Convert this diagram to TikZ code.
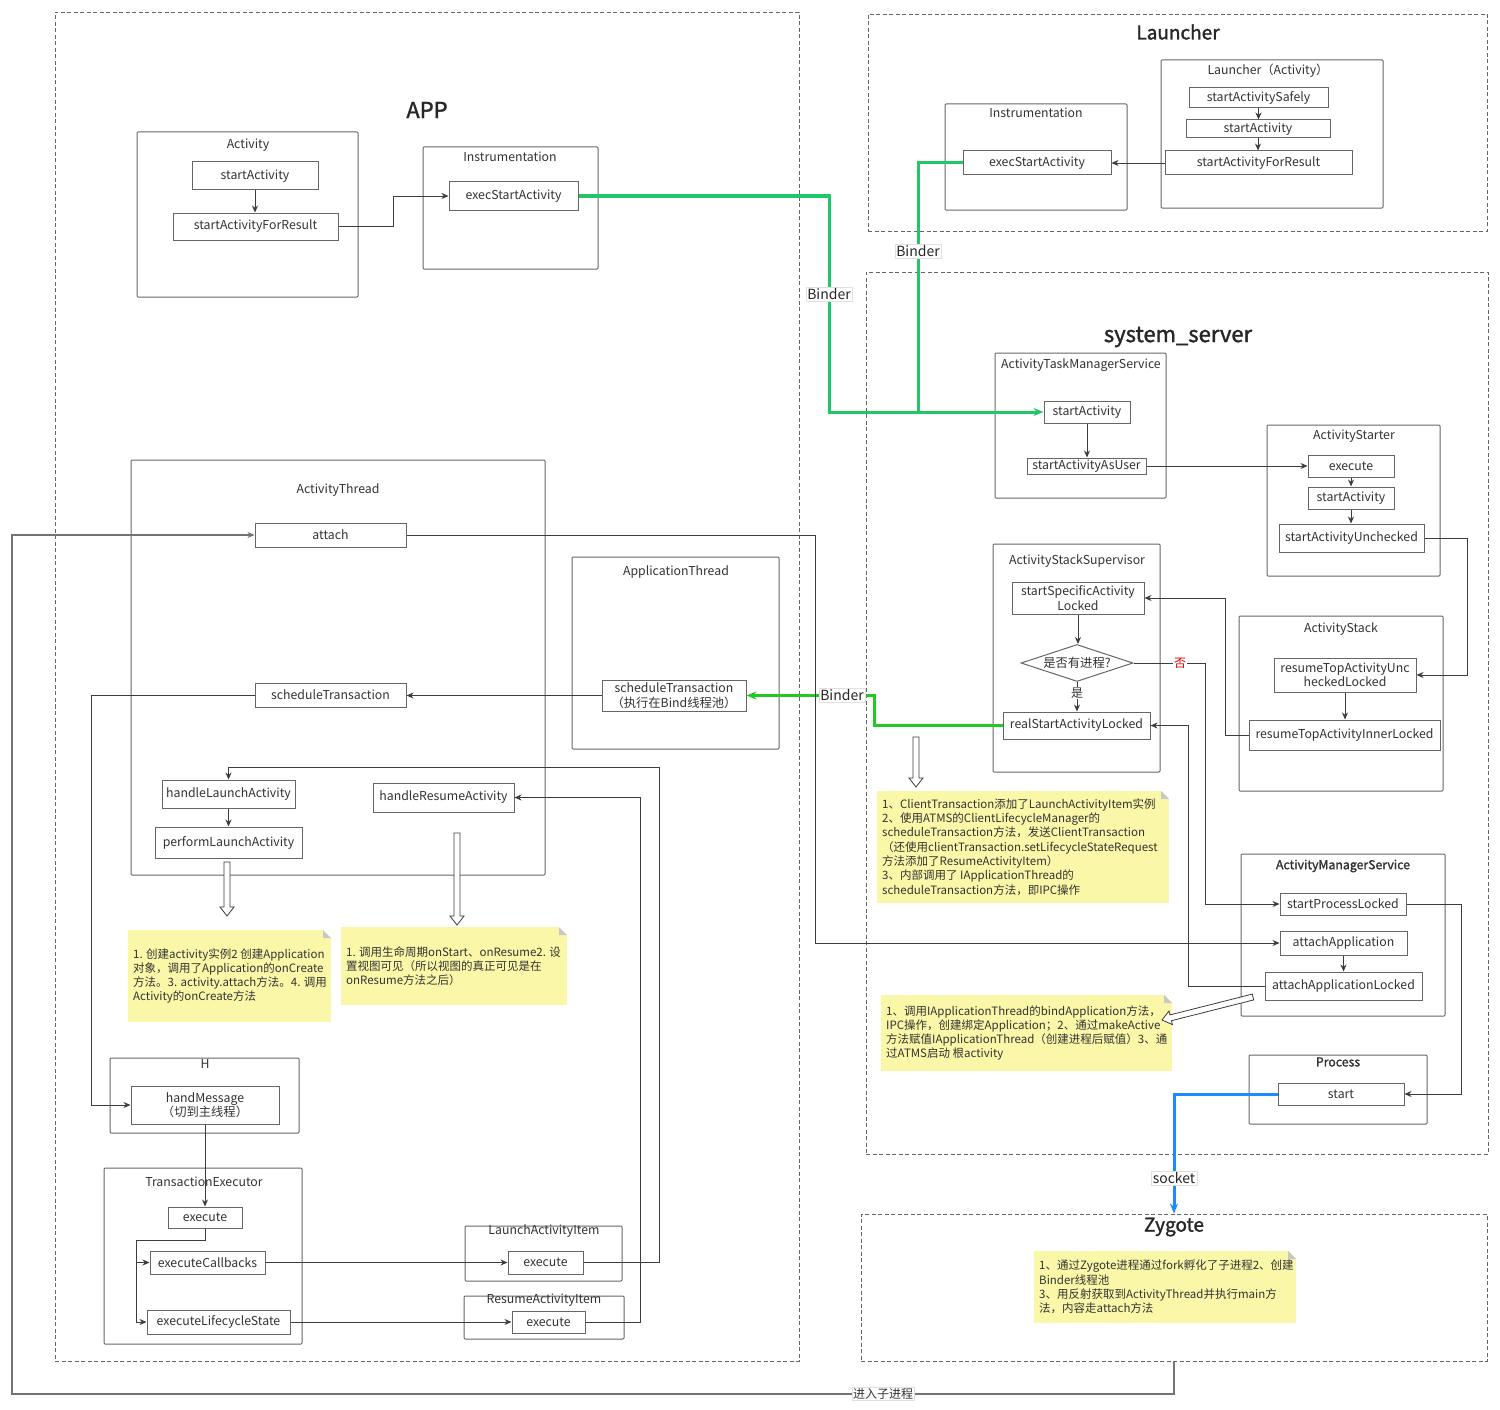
\documentclass[tikz,border=0pt]{standalone}
\usepackage{fontspec}
\setmainfont{Noto Sans CJK SC}[AutoFakeBold=1.5]
\usetikzlibrary{arrows.meta,fit,shapes.geometric}
\definecolor{linec}{HTML}{3C3C3C}
\definecolor{boxc}{HTML}{666666}
\definecolor{txtc}{HTML}{333333}
\definecolor{gA}{HTML}{1FC766}
\definecolor{gB}{HTML}{22C922}
\definecolor{blueL}{HTML}{1A8CFF}
\definecolor{noteY}{HTML}{FAF8A8}
\tikzset{
 fnbox/.style={draw=boxc, line width=1pt, inner sep=0pt, align=center, text=txtc, font=\fontsize{12.3}{14.5}\selectfont},
 ctrbox/.style={draw=boxc, line width=1pt, inner sep=0pt, rounded corners=1pt},
 dashbox/.style={draw=boxc, line width=0.9pt, dash pattern=on 4pt off 2.5pt, inner sep=0pt},
 ttl/.style={text=txtc, font=\fontsize{12.3}{14}\selectfont, inner sep=1pt},
 bigttl/.style={text=black!85, font=\fontsize{22}{26}\selectfont\bfseries, inner sep=1pt},
 midttl/.style={text=black!85, font=\fontsize{19}{23}\selectfont\bfseries, inner sep=1pt},
 arr/.style={draw=linec, line width=0.9pt, -{Stealth[length=7pt,width=6pt]}},
 lnc/.style={draw=linec, line width=0.9pt},
 grnA/.style={draw=gA, line width=3pt, -{Stealth[length=10pt,width=8pt]}},
 grnAline/.style={draw=gA, line width=3pt},
 grnB/.style={draw=gB, line width=3pt, -{Stealth[length=10pt,width=8pt]}},
 blu/.style={draw=blueL, line width=3pt, -{Stealth[length=10pt,width=8pt]}},
 lbl/.style={fill=white, draw=black!12, inner sep=1.5pt, font=\fontsize{14}{16}\selectfont, text=black!85},
 slbl/.style={fill=white, inner sep=1pt, font=\fontsize{12}{14}\selectfont, text=txtc},
 note/.style={fill=noteY, inner sep=0pt},
 notetxt/.style={align=left, font=\fontsize{11.5}{14.3}\selectfont, text=txtc, inner sep=0pt, anchor=west},
 hollow/.style={draw=linec, line width=0.8pt, fill=white},
 dia/.style={diamond, draw=boxc, line width=1pt, aspect=3, inner sep=0pt, minimum width=112pt, minimum height=37pt, text=txtc, font=\fontsize{12.3}{14}\selectfont},
}
\newcommand\fn[6]{\node[fnbox, minimum width={(#4-#2)*1pt}, minimum height={(#5-#3)*1pt}] (#1) at ({(#2+#4)/2},{(#3+#5)/2}) {#6};}
\newcommand\ctr[7]{\node[ctrbox, fit={(#2,#3) (#4,#5)}] (#1) {};\node[ttl] (#1t) at (#6) {#7};}
\newcommand\notebox[6]{\node[note, fit={(#2,#3) (#4,#5)}] (#1) {};
 \fill[white] ({#4-8},#3) -- (#4,#3) -- (#4,{#3+8}) -- cycle;
 \fill[black!22] ({#4-8},#3) -- (#4,{#3+8}) -- ({#4-8},{#3+8}) -- cycle;
 \node[notetxt] (#1x) at ({#2+5},{(#3+#5)/2}) {#6};}
\newcommand\hdown[3]{\draw[hollow] ({#1-3},#2) -- ({#1+3},#2) -- ({#1+3},{#3-9}) -- ({#1+7},{#3-9}) -- (#1,#3) -- ({#1-7},{#3-9}) -- ({#1-3},{#3-9}) -- cycle;}
\begin{document}
\begin{tikzpicture}[x=1pt,y=-1pt]
\useasboundingbox (0,0) rectangle (1500,1410);
\fill[white] (0,0) rectangle (1500,1410);

% regions
\node[dashbox, fit={(55,12) (799,1361)}] (app) {};
\node[bigttl] (appt) at (427,110) {APP};
\node[dashbox, fit={(868,14) (1487,231)}] (lau) {};
\node[midttl] (laut) at (1178,32) {Launcher};
\node[dashbox, fit={(866,272) (1488,1154)}] (ss) {};
\node[bigttl] (sst) at (1178,337) {system\_server};
\node[dashbox, fit={(861,1214) (1487,1361)}] (zyg) {};
\node[midttl] (zygt) at (1174,1227) {Zygote};

% APP top
\ctr{a_act}{137}{132}{358}{297}{248,145}{Activity}
\fn{a_sa}{192}{162}{318}{190}{startActivity}
\fn{a_sfr}{173}{213}{338}{240}{startActivityForResult}
\ctr{a_ins}{423}{147}{598}{269}{510,157}{Instrumentation}
\fn{a_esa}{449}{182}{578}{210}{execStartActivity}

% Launcher
\ctr{l_ins}{945}{104}{1127}{210}{1036,113}{Instrumentation}
\fn{l_esa}{963}{151}{1111}{175}{execStartActivity}
\ctr{l_act}{1161}{60}{1383}{208}{1268,71}{Launcher（Activity）}
\fn{l_sas}{1189}{88}{1328}{108}{startActivitySafely}
\fn{l_sa}{1186}{120}{1330}{138}{startActivity}
\fn{l_sfr}{1165}{151}{1352}{175}{startActivityForResult}

% system_server
\ctr{s_atms}{995}{353}{1166}{498}{1081,365}{ActivityTaskManagerService}
\fn{s_sa}{1044}{401}{1130}{423}{startActivity}
\fn{s_sau}{1027}{458}{1146}{474}{startActivityAsUser}
\ctr{s_ast}{1267}{425}{1440}{576}{1354,436}{ActivityStarter}
\fn{s_ex}{1308}{455}{1394}{477}{execute}
\fn{s_sa2}{1308}{487}{1394}{509}{startActivity}
\fn{s_unc}{1279}{524}{1424}{552}{startActivityUnchecked}
\ctr{k_st}{1239}{616}{1443}{791}{1341,629}{ActivityStack}
\fn{k_unc}{1274}{658}{1416}{692}{resumeTopActivityUnc\\heckedLocked}
\fn{k_inn}{1249}{720}{1440}{750}{resumeTopActivityInnerLocked}
\ctr{v_sup}{993}{544}{1160}{772}{1077,561}{ActivityStackSupervisor}
\fn{v_ssal}{1012}{582}{1144}{614}{startSpecificActivity\\Locked}
\node[dia] (v_dia) at (1077,663) {是否有进程?};
\fn{v_real}{1003}{712}{1150}{739}{realStartActivityLocked}
\ctr{m_ams}{1241}{854}{1445}{1016}{1343,866}{\bfseries ActivityManagerService}
\fn{m_spl}{1280}{893}{1406}{915}{startProcessLocked}
\fn{m_aa}{1280}{931}{1407}{955}{attachApplication}
\fn{m_aal}{1265}{972}{1422}{1000}{attachApplicationLocked}
\ctr{p_pr}{1249}{1055}{1427}{1124}{1338,1062}{\bfseries Process}
\fn{p_st}{1278}{1083}{1404}{1105}{start}

% APP lower
\ctr{t_at}{131}{460}{545}{875}{338,490}{ActivityThread}
\fn{t_att}{255}{523}{406}{547}{attach}
\ctr{t_apt}{572}{557}{779}{749}{676,572}{ApplicationThread}
\fn{t_ats}{602}{680}{746}{711}{scheduleTransaction\\（执行在Bind线程池）}
\fn{t_st}{255}{683}{406}{707}{scheduleTransaction}
\fn{t_hla}{162}{780}{295}{808}{handleLaunchActivity}
\fn{t_pla}{155}{827}{302}{858}{performLaunchActivity}
\fn{t_hra}{373}{783}{514}{812}{handleResumeActivity}
\ctr{h_h}{110}{1058}{299}{1133}{205,1064}{H}
\fn{h_hm}{131}{1086}{279}{1124}{handMessage\\（切到主线程）}
\ctr{x_te}{104}{1168}{302}{1344}{204,1182}{TransactionExecutor}
\fn{x_ex}{168}{1207}{242}{1228}{execute}
\fn{x_cb}{150}{1251}{265}{1274}{executeCallbacks}
\fn{x_ls}{147}{1310}{290}{1334}{executeLifecycleState}
\ctr{li_b}{465}{1226}{622}{1281}{544,1231}{LaunchActivityItem}
\fn{li_ex}{508}{1251}{583}{1274}{execute}
\ctr{ri_b}{464}{1296}{624}{1339}{544,1300}{ResumeActivityItem}
\fn{ri_ex}{512}{1311}{585}{1333}{execute}

% notes
\notebox{n1}{128}{930}{331}{1022}{1. 创建activity实例2 创建Application\\对象，调用了Application的onCreate\\方法。3. activity.attach方法。4. 调用\\Activity的onCreate方法}
\notebox{n2}{341}{927}{567}{1005}{1. 调用生命周期onStart、onResume2. 设\\置视图可见（所以视图的真正可见是在\\onResume方法之后）}
\notebox{n3}{877}{791}{1169}{903}{1、ClientTransaction添加了LaunchActivityItem实例\\2、使用ATMS的ClientLifecycleManager的\\scheduleTransaction方法，发送ClientTransaction\\（还使用clientTransaction.setLifecycleStateRequest\\方法添加了ResumeActivityItem）\\3、内部调用了 IApplicationThread的\\scheduleTransaction方法，即IPC操作}
\notebox{n4}{881}{995}{1172}{1071}{1、调用IApplicationThread的bindApplication方法，\\IPC操作，创建绑定Application；2、通过makeActive\\方法赋值IApplicationThread（创建进程后赋值）3、通\\过ATMS启动 根activity}
\notebox{n5}{1034}{1251}{1296}{1323}{1、通过Zygote进程通过fork孵化了子进程2、创建\\Binder线程池\\3、用反射获取到ActivityThread并执行main方\\法，内容走attach方法}

% hollow arrows
\hdown{227}{862}{916}
\hdown{457}{833}{925}
\hdown{916}{737}{787}
\draw[hollow] (1253.7,999.9) -- (1171.4,1020.7) -- (1172.4,1024.6) -- (1162,1020) -- (1169.0,1011.0) -- (1170.0,1014.9) -- (1252.3,994.1) -- cycle;

% connectors APP top / Launcher
\draw[arr] (a_sa.south) -- (a_sa.south |- a_sfr.north);
\draw[arr] (a_sfr.east) -- ++(55,0) |- (a_esa.west);
\draw[arr] (l_sas.south) -- (l_sas.south |- l_sa.north);
\draw[arr] (l_sa.south) -- (l_sa.south |- l_sfr.north);
\draw[arr] (l_sfr.west) -- (l_esa.east);
\draw[grnAline] (l_esa.west) -| (918,412);
\draw[grnA] (a_esa.east) -- (829,196) |- (s_sa.west);
\node[lbl] (bd1) at (829,294) {Binder};
\node[lbl] (bd2) at (918,251) {Binder};

% system_server connectors
\draw[arr] (s_sa.south) -- (s_sa.south |- s_sau.north);
\draw[arr] (s_sau.east) -- (s_ex.west);
\draw[arr] (s_ex.south) -- (s_ex.south |- s_sa2.north);
\draw[arr] (s_sa2.south) -- (s_sa2.south |- s_unc.north);
\draw[arr] (s_unc.east) -- (1467,538) |- (k_unc.east);
\draw[arr] (k_unc.south) -- (k_unc.south |- k_inn.north);
\draw[arr] (k_inn.west) -- (1225,735) |- (v_ssal.east);
\draw[arr] (v_ssal.south) -- (v_ssal.south |- v_dia.north);
\draw[arr] (v_dia.south) -- (v_dia.south |- v_real.north);
\node[slbl] (yes) at (1077,693) {是};
\draw[arr] (v_dia.east) -- (1205,663) |- (m_spl.west);
\node[slbl, text=red!85!black] (no) at (1180,663) {否};
\draw[arr] (m_aal.west) -- (1188,986) |- (v_real.east);
\draw[arr] (m_aa.south) -- (m_aa.south |- m_aal.north);
\draw[arr] (m_spl.east) -- (1461,904) |- (p_st.east);
\draw[blu] (p_st.west) -| (zyg.north);
\node[lbl] (sk) at (1174,1178) {socket};
\draw[grnB] (v_real.west) -- (874,725.5) |- (t_ats.east);
\node[lbl] (bd3) at (842,695) {Binder};

% attach / zygote return
\draw[arr] (t_att.east) -- (815,535) |- (m_aa.west);
\draw[arr, draw=black!55, line width=1.2pt] (zyg.south) -- (1174,1394) -- (12,1394) |- (t_att.west);
\node[slbl, draw=black!12] (sub) at (883,1394) {进入子进程};

% APP lower connectors
\draw[arr] (t_ats.west) -- (t_ats.west -| t_st.east);
\draw[arr] (t_st.west) -- (91,695) |- (h_hm.west);
\draw[arr] (t_hla.south) -- (t_hla.south |- t_pla.north);
\draw[arr] (h_hm.south) -- (h_hm.south |- x_ex.north);
\draw[arr] (x_ex.south) -- (205,1240) -- (136,1240) |- (x_ls.west);
\coordinate (xj) at (136,1262.5);
\draw[arr] (xj) -- (x_cb.west);
\draw[arr] (x_cb.east) -- (x_cb.east -| li_ex.west);
\draw[arr] (x_ls.east) -- (x_ls.east -| ri_ex.west);
\draw[arr] (li_ex.east) -- (659,1262.5) -- (659,767) -| (t_hla.north);
\draw[arr] (ri_ex.east) -- (640,1322) |- (t_hra.east);
\end{tikzpicture}
\end{document}
